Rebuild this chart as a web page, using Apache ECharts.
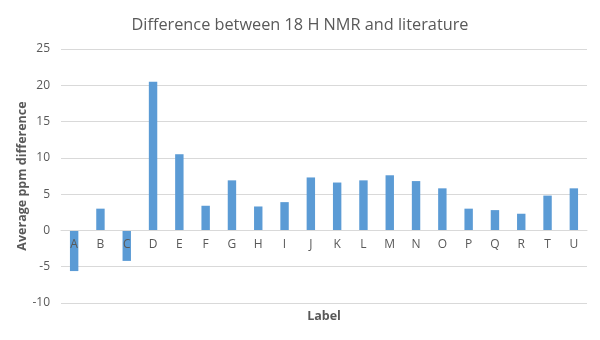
<!DOCTYPE html>
<html><head><meta charset="utf-8">
<script src="https://cdn.jsdelivr.net/npm/echarts@6/dist/echarts.min.js"></script>
<style>html,body{margin:0;padding:0;background:#fff}#c{width:600px;height:340px}</style>
</head><body><div id="c"></div>
<script>
const categories = ['A','B','C','D','E','F','G','H','I','J','K','L','M','N','O','P','Q','R','T','U'];
const values = [-5.6, 3.0, -4.2, 20.5, 10.5, 3.4, 6.9, 3.3, 3.9, 7.3, 6.6, 6.9, 7.6, 6.8, 5.8, 3.0, 2.8, 2.3, 4.8, 5.8];
const yMin = -10, yMax = 25, yStep = 5;
const chartTitle = 'Difference between 18 H NMR and literature';
const xName = 'Label';
const yName = 'Average ppm difference';

const gridTop = 49, gridBottom = 37, H = 340;
const plotH = H - gridTop - gridBottom;
const zeroOffset = -plotH * (0 - yMin) / (yMax - yMin);

const chart = echarts.init(document.getElementById('c'));
chart.setOption({
  animation: false,
  title: {
    text: chartTitle, left: 'center', top: 12,
    textStyle: { fontFamily: 'Open Sans', fontSize: 16.3, fontWeight: 'normal', color: '#595959' }
  },
  grid: { left: 61, right: 13, top: gridTop, bottom: gridBottom, containLabel: false, outerBoundsMode: 'none' },
  xAxis: {
    type: 'category', data: categories, position: 'bottom', offset: zeroOffset, z: 10,
    name: xName, nameLocation: 'middle', nameGap: 80, nameMoveOverlap: false,
    nameTextStyle: { fontFamily: 'Open Sans', fontSize: 12.5, fontWeight: 'bold', color: '#595959' },
    axisLine: { onZero: false, show: true, lineStyle: { color: '#d9d9d9' } },
    axisTick: { show: false },
    axisLabel: { fontFamily: 'Open Sans', fontSize: 12, color: '#595959', margin: 8 }
  },
  yAxis: {
    type: 'value', min: yMin, max: yMax, interval: yStep,
    name: yName, nameLocation: 'middle', nameGap: 32, nameRotate: 90, nameMoveOverlap: false,
    nameTextStyle: { fontFamily: 'Open Sans', fontSize: 12.5, fontWeight: 'bold', color: '#595959' },
    axisLine: { show: false }, axisTick: { show: false },
    axisLabel: { fontFamily: 'Open Sans', fontSize: 12, color: '#595959', margin: 11 },
    splitLine: { lineStyle: { color: '#d9d9d9' } }
  },
  series: [{
    type: 'bar', data: values, barWidth: '32%', z: 2,
    itemStyle: { color: '#5b9bd5' }
  }]
});
</script></body></html>
